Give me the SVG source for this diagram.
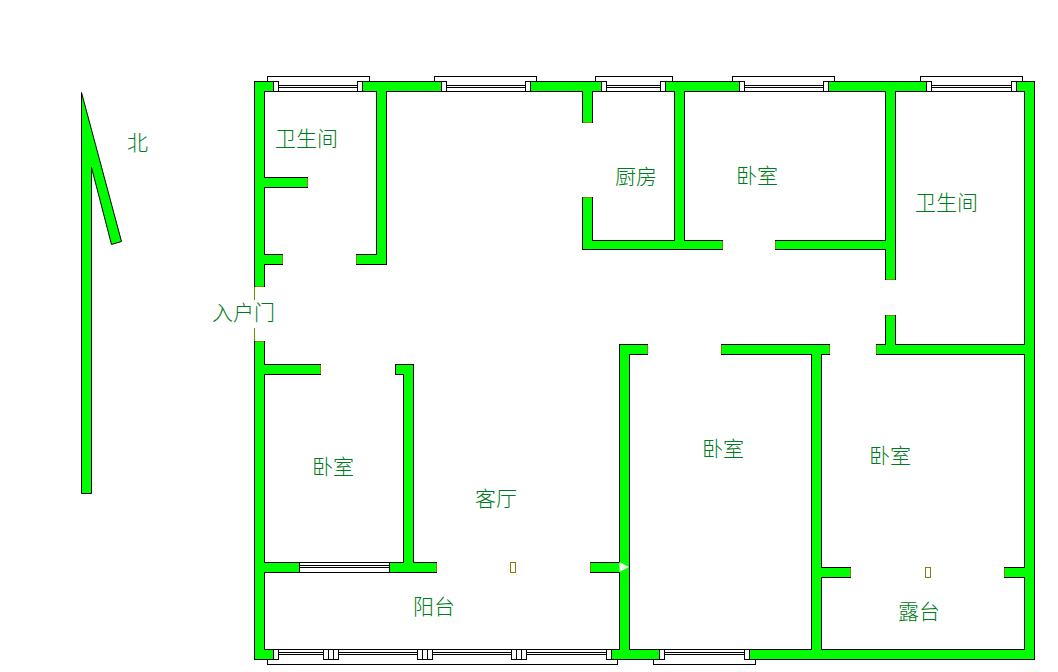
<svg xmlns="http://www.w3.org/2000/svg" width="1058" height="672" viewBox="0 0 1058 672">
<style>
.k{fill:#000}
.g{fill:#00ff00}
.c{fill:#6f9000}
.p{fill:#fff}
.w{fill:#fff;stroke:#000;stroke-width:1}
.f{fill:none;stroke:#000;stroke-width:1}
.m{fill:none;stroke:#808000;stroke-width:1}
text{font-family:"Noto Sans CJK SC","Noto Sans",sans-serif;font-size:21px;font-weight:300;fill:#007a20}
</style>
<rect width="1058" height="672" fill="#fff"/>
<g id="north-arrow">
<path d="M81.5 92.5 L121.5 241.5 L111.5 244.5 L91.5 167.5 V493.5 H81.5 Z" fill="#00ff00" stroke="#000" stroke-width="1"/>
</g>
<g id="walls-outline" shape-rendering="crispEdges">
<rect class="k" x="254" y="81" width="11" height="206"/>
<rect class="k" x="254" y="341" width="11" height="319"/>
<rect class="k" x="376" y="81" width="11" height="184"/>
<rect class="k" x="582" y="81" width="11" height="42"/>
<rect class="k" x="582" y="197" width="11" height="53"/>
<rect class="k" x="674" y="81" width="11" height="169"/>
<rect class="k" x="885" y="81" width="11" height="199"/>
<rect class="k" x="885" y="315" width="11" height="40"/>
<rect class="k" x="619" y="344" width="11" height="316"/>
<rect class="k" x="811" y="344" width="11" height="316"/>
<rect class="k" x="403" y="364" width="11" height="209"/>
<rect class="k" x="1024" y="81" width="11" height="579"/>
<rect class="k" x="254" y="81" width="19" height="11"/>
<rect class="k" x="362" y="81" width="80" height="11"/>
<rect class="k" x="530" y="81" width="72" height="11"/>
<rect class="k" x="665" y="81" width="75" height="11"/>
<rect class="k" x="828" y="81" width="99" height="11"/>
<rect class="k" x="1016" y="81" width="19" height="11"/>
<rect class="k" x="254" y="177" width="54" height="11"/>
<rect class="k" x="254" y="254" width="29" height="11"/>
<rect class="k" x="356" y="254" width="31" height="11"/>
<rect class="k" x="254" y="364" width="67" height="11"/>
<rect class="k" x="395" y="364" width="19" height="11"/>
<rect class="k" x="582" y="240" width="141" height="10"/>
<rect class="k" x="775" y="240" width="121" height="10"/>
<rect class="k" x="876" y="344" width="159" height="11"/>
<rect class="k" x="619" y="344" width="29" height="11"/>
<rect class="k" x="721" y="344" width="109" height="11"/>
<rect class="k" x="254" y="562" width="46" height="11"/>
<rect class="k" x="389" y="562" width="48" height="11"/>
<rect class="k" x="590" y="562" width="40" height="11"/>
<rect class="k" x="254" y="649" width="20" height="11"/>
<rect class="k" x="611" y="649" width="49" height="11"/>
<rect class="k" x="749" y="649" width="286" height="11"/>
<rect class="k" x="811" y="567" width="40" height="11"/>
<rect class="k" x="1004" y="567" width="31" height="11"/>
</g>
<g id="walls-fill" shape-rendering="crispEdges">
<rect class="g" x="255" y="82" width="9" height="205"/>
<rect class="g" x="255" y="341" width="9" height="318"/>
<rect class="g" x="377" y="82" width="9" height="182"/>
<rect class="g" x="583" y="82" width="9" height="41"/>
<rect class="g" x="583" y="197" width="9" height="52"/>
<rect class="g" x="675" y="82" width="9" height="167"/>
<rect class="g" x="886" y="82" width="9" height="198"/>
<rect class="g" x="886" y="315" width="9" height="39"/>
<rect class="g" x="620" y="345" width="9" height="314"/>
<rect class="g" x="812" y="345" width="9" height="314"/>
<rect class="g" x="404" y="365" width="9" height="207"/>
<rect class="g" x="1025" y="82" width="9" height="577"/>
<rect class="g" x="255" y="82" width="18" height="9"/>
<rect class="g" x="362" y="82" width="80" height="9"/>
<rect class="g" x="530" y="82" width="72" height="9"/>
<rect class="g" x="665" y="82" width="75" height="9"/>
<rect class="g" x="828" y="82" width="99" height="9"/>
<rect class="g" x="1016" y="82" width="18" height="9"/>
<rect class="g" x="255" y="178" width="53" height="9"/>
<rect class="g" x="255" y="255" width="28" height="9"/>
<rect class="g" x="356" y="255" width="30" height="9"/>
<rect class="g" x="255" y="365" width="66" height="9"/>
<rect class="g" x="396" y="365" width="17" height="9"/>
<rect class="g" x="583" y="241" width="140" height="8"/>
<rect class="g" x="775" y="241" width="120" height="8"/>
<rect class="g" x="876" y="345" width="158" height="9"/>
<rect class="g" x="620" y="345" width="28" height="9"/>
<rect class="g" x="721" y="345" width="109" height="9"/>
<rect class="g" x="255" y="563" width="45" height="9"/>
<rect class="g" x="389" y="563" width="48" height="9"/>
<rect class="g" x="590" y="563" width="39" height="9"/>
<rect class="g" x="255" y="650" width="19" height="9"/>
<rect class="g" x="611" y="650" width="48" height="9"/>
<rect class="g" x="749" y="650" width="285" height="9"/>
<rect class="g" x="812" y="568" width="39" height="9"/>
<rect class="g" x="1004" y="568" width="30" height="9"/>
</g>
<g id="wall-ends" shape-rendering="crispEdges">
<rect class="c" x="255" y="286" width="9" height="1"/>
<rect class="c" x="255" y="341" width="9" height="1"/>
<rect class="c" x="583" y="122" width="9" height="1"/>
<rect class="c" x="583" y="197" width="9" height="1"/>
<rect class="c" x="886" y="279" width="9" height="1"/>
<rect class="c" x="886" y="315" width="9" height="1"/>
<rect class="c" x="307" y="178" width="1" height="9"/>
<rect class="c" x="282" y="255" width="1" height="9"/>
<rect class="c" x="356" y="255" width="1" height="9"/>
<rect class="c" x="320" y="365" width="1" height="9"/>
<rect class="c" x="722" y="241" width="1" height="8"/>
<rect class="c" x="775" y="241" width="1" height="8"/>
<rect class="c" x="876" y="345" width="1" height="9"/>
<rect class="c" x="647" y="345" width="1" height="9"/>
<rect class="c" x="721" y="345" width="1" height="9"/>
<rect class="c" x="829" y="345" width="1" height="9"/>
<rect class="c" x="436" y="563" width="1" height="9"/>
<rect class="c" x="590" y="563" width="1" height="9"/>
<rect class="c" x="850" y="568" width="1" height="9"/>
<rect class="c" x="1004" y="568" width="1" height="9"/>
</g>
<g id="entry-door" shape-rendering="crispEdges">
<rect class="c" x="254" y="287" width="1" height="13"/>
<rect class="c" x="254" y="328" width="1" height="13"/>
</g>
<g id="windows" shape-rendering="crispEdges">
<path class="f" d="M267.5 81V76.5H369.5V81M434.5 81V76.5H536.5V81M595.5 81V76.5H672.5V81M732.5 81V76.5H834.5V81M920.5 81V76.5H1022.5V81"/>
<path class="f" d="M267.5 660V664.5H617.5V660M653.5 660V664.5H755.5V660"/>
<rect class="p" x="273" y="81" width="90" height="11"/>
<path class="f" d="M278 85.5H358M278 87.5H358M278 91.5H358"/>
<rect class="w" x="273.5" y="81.5" width="5" height="10"/>
<rect class="w" x="357.5" y="81.5" width="5" height="10"/>
<rect class="p" x="441" y="81" width="90" height="11"/>
<path class="f" d="M446 85.5H526M446 87.5H526M446 91.5H526"/>
<rect class="w" x="441.5" y="81.5" width="5" height="10"/>
<rect class="w" x="525.5" y="81.5" width="5" height="10"/>
<rect class="p" x="601" y="81" width="65" height="11"/>
<path class="f" d="M606 85.5H661M606 87.5H661M606 91.5H661"/>
<rect class="w" x="601.5" y="81.5" width="5" height="10"/>
<rect class="w" x="660.5" y="81.5" width="5" height="10"/>
<rect class="p" x="739" y="81" width="90" height="11"/>
<path class="f" d="M744 85.5H824M744 87.5H824M744 91.5H824"/>
<rect class="w" x="739.5" y="81.5" width="5" height="10"/>
<rect class="w" x="823.5" y="81.5" width="5" height="10"/>
<rect class="p" x="926" y="81" width="91" height="11"/>
<path class="f" d="M931 85.5H1012M931 87.5H1012M931 91.5H1012"/>
<rect class="w" x="926.5" y="81.5" width="5" height="10"/>
<rect class="w" x="1011.5" y="81.5" width="5" height="10"/>
<rect class="w" x="299.5" y="562.5" width="90" height="10"/>
<path class="f" d="M300 565.5H389M300 567.5H389"/>
<rect class="p" x="273" y="649" width="339" height="11"/>
<path class="f" d="M278 649.5H607M278 652.5H607M278 654.5H607"/>
<rect class="w" x="273.5" y="649.5" width="5" height="10"/>
<rect class="w" x="323.5" y="649.5" width="5" height="10"/>
<rect class="w" x="328.5" y="649.5" width="5" height="10"/>
<rect class="w" x="333.5" y="649.5" width="5" height="10"/>
<rect class="w" x="417.5" y="649.5" width="5" height="10"/>
<rect class="w" x="422.5" y="649.5" width="5" height="10"/>
<rect class="w" x="427.5" y="649.5" width="5" height="10"/>
<rect class="w" x="511.5" y="649.5" width="5" height="10"/>
<rect class="w" x="516.5" y="649.5" width="5" height="10"/>
<rect class="w" x="521.5" y="649.5" width="5" height="10"/>
<rect class="w" x="606.5" y="649.5" width="5" height="10"/>
<rect class="p" x="659" y="649" width="91" height="11"/>
<path class="f" d="M664 649.5H745M664 652.5H745M664 654.5H745"/>
<rect class="w" x="659.5" y="649.5" width="5" height="10"/>
<rect class="w" x="744.5" y="649.5" width="5" height="10"/>
</g>
<g id="markers">
<rect class="m" x="510.5" y="562.5" width="5" height="10"/>
<rect class="m" x="925.5" y="567.5" width="5" height="10"/>
<path d="M619.5 562 L629 567 L619.5 572 Z" fill="#e8ffe8"/>
</g>
<g id="labels">
<text x="127" y="150">北</text>
<text x="275" y="146">卫生间</text>
<text x="615" y="184">厨房</text>
<text x="736" y="183">卧室</text>
<text x="915" y="210">卫生间</text>
<text x="212" y="320">入户门</text>
<text x="312" y="474">卧室</text>
<text x="475" y="506">客厅</text>
<text x="702" y="456">卧室</text>
<text x="869" y="463">卧室</text>
<text x="413" y="614">阳台</text>
<text x="898" y="619">露台</text>
</g>
</svg>
